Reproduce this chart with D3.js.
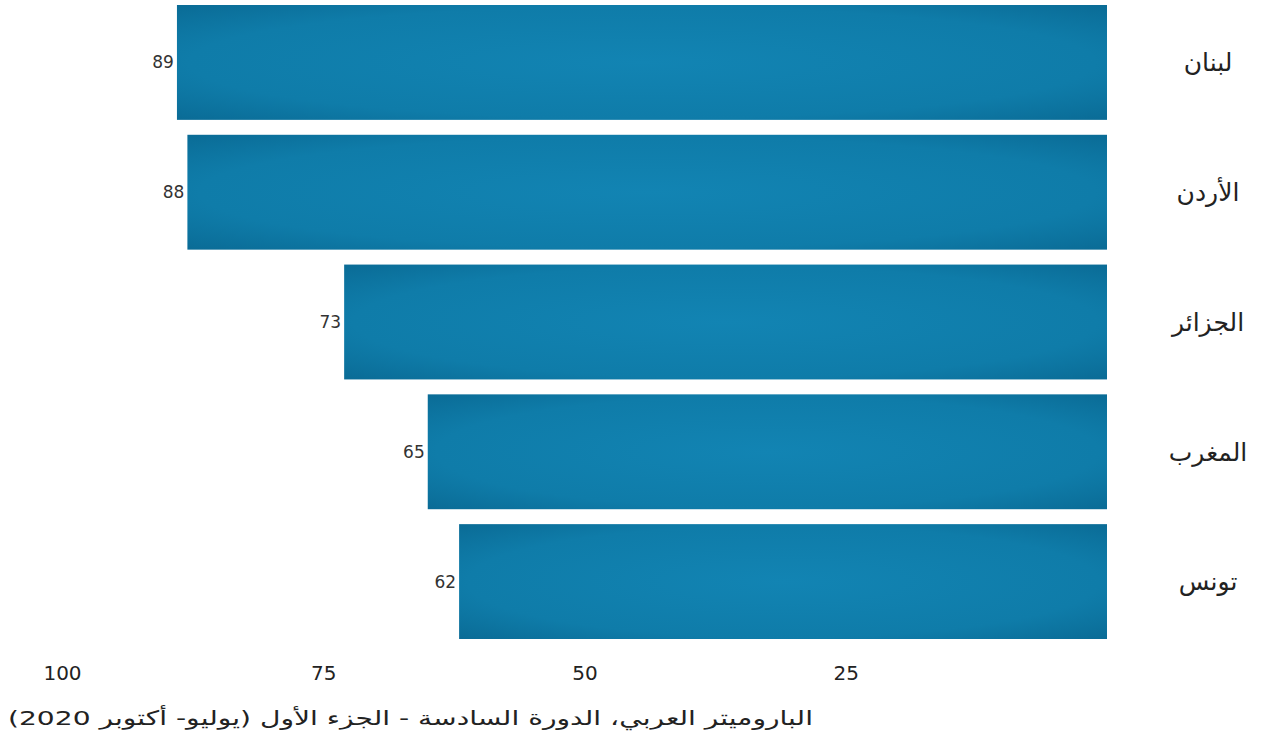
<!DOCTYPE html>
<html lang="ar">
<head>
<meta charset="UTF-8" />
<title>الباروميتر العربي</title>
<style>
  body { margin: 0; background: #fff; }
  svg { display: block; }
  text { font-family: "DejaVu Sans", sans-serif; }
</style>
</head>
<body>
<svg id="chart" width="1284" height="739"></svg>
<script src="https://d3js.org/d3.v7.min.js"></script>
<script>
  // data
  const countries = ["لبنان", "الأردن", "الجزائر", "المغرب", "تونس"];
  const values = [89, 88, 73, 65, 62];
  const ticks = [100, 75, 50, 25];
  const source = "الباروميتر العربي، الدورة السادسة - الجزء الأول (يوليو- أكتوبر 2020)";

  const svg = d3.select("#chart");

  // x runs right-to-left: 0 at the right edge of the bars
  const x = d3.scaleLinear().domain([0, 100]).range([1107, 62]);
  const y = d3.scaleBand().domain(countries).range([5, 639]).paddingInner(0.115);

  const grad = svg.append("defs").append("radialGradient")
    .attr("id", "barFill")
    .attr("cx", "50%").attr("cy", "50%").attr("r", "75%");
  grad.append("stop").attr("offset", "0%").attr("stop-color", "#1284b3");
  grad.append("stop").attr("offset", "65%").attr("stop-color", "#0f7ca9");
  grad.append("stop").attr("offset", "100%").attr("stop-color", "#096892");

  const rows = countries.map((c, i) => ({ country: c, value: values[i] }));

  svg.selectAll(".bar")
    .data(rows)
    .enter().append("rect")
    .attr("class", "bar")
    .attr("x", d => x(d.value))
    .attr("y", d => y(d.country))
    .attr("width", d => x(0) - x(d.value))
    .attr("height", y.bandwidth())
    .attr("fill", "url(#barFill)");

  // value labels just left of each bar
  svg.selectAll(".val")
    .data(rows)
    .enter().append("text")
    .attr("class", "val")
    .attr("x", d => x(d.value) - 3)
    .attr("y", d => y(d.country) + y.bandwidth() / 2)
    .attr("dy", "0.35em")
    .attr("text-anchor", "end")
    .attr("font-size", 17)
    .attr("fill", "#333")
    .text(d => d.value);

  // country names on the right
  svg.selectAll(".name")
    .data(rows)
    .enter().append("text")
    .attr("class", "name")
    .attr("x", 1208)
    .attr("y", d => y(d.country) + y.bandwidth() / 2)
    .attr("dy", "0.35em")
    .attr("text-anchor", "middle")
    .attr("font-size", 25)
    .attr("fill", "#222")
    .text(d => d.country);

  // bottom axis, labels only
  const axis = svg.append("g")
    .attr("transform", "translate(0,666)")
    .call(d3.axisBottom(x).tickValues(ticks).tickSize(0).tickPadding(0));
  axis.select(".domain").remove();
  axis.selectAll("text")
    .attr("font-family", "DejaVu Sans, sans-serif")
    .attr("font-size", 20)
    .attr("fill", "#222")
    .attr("dy", "0.71em");

  svg.append("text")
    .attr("x", 813)
    .attr("y", 725)
    .attr("direction", "rtl")
    .attr("text-anchor", "start")
    .attr("font-size", 20)
    .attr("textLength", 805)
    .attr("lengthAdjust", "spacingAndGlyphs")
    .attr("fill", "#222")
    .text(source);
</script>
</body>
</html>
